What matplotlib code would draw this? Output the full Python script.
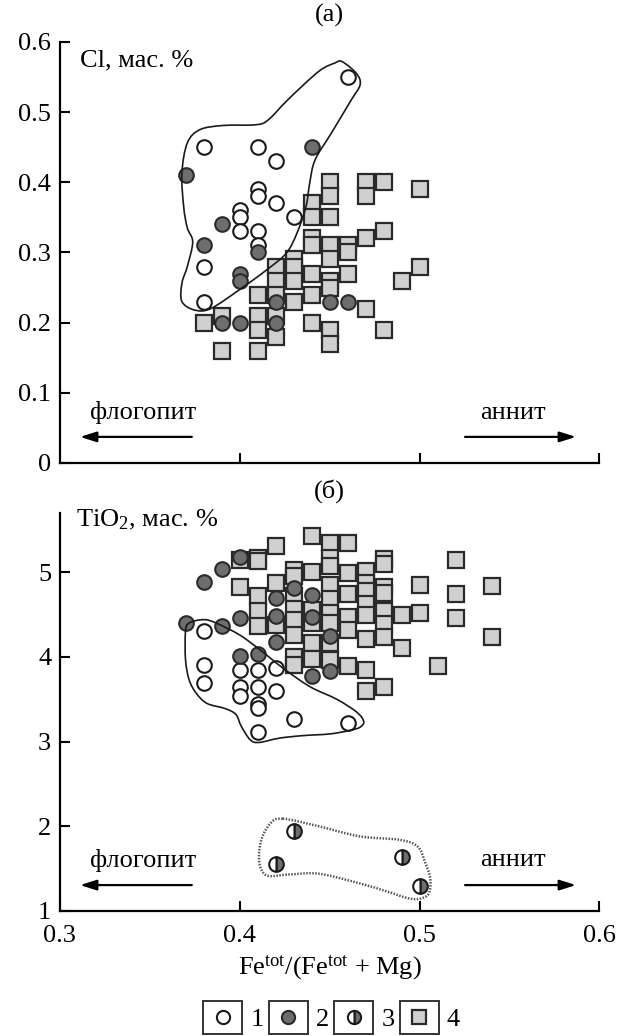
import matplotlib.pyplot as plt
import numpy as np
from matplotlib.path import Path
from matplotlib.patches import PathPatch, Rectangle
from matplotlib.lines import Line2D
from matplotlib.legend_handler import HandlerBase

plt.rcParams['font.family'] = ['Liberation Serif', 'DejaVu Serif']
plt.rcParams['mathtext.fontset'] = 'custom'
plt.rcParams['mathtext.rm'] = 'Liberation Serif'
plt.rcParams['mathtext.it'] = 'Liberation Serif:italic'

# ---- panel (а): Cl, wt. % ----
a_open_x = [0.46, 0.38, 0.41, 0.42, 0.41, 0.41, 0.42, 0.40, 0.40, 0.43, 0.40, 0.41, 0.41, 0.38, 0.38]
a_open_y = [0.55, 0.45, 0.45, 0.43, 0.39, 0.38, 0.37, 0.36, 0.35, 0.35, 0.33, 0.33, 0.31, 0.28, 0.23]
a_fill_x = [0.44, 0.37, 0.39, 0.38, 0.41, 0.40, 0.40, 0.42, 0.45, 0.46, 0.39, 0.40, 0.42]
a_fill_y = [0.45, 0.41, 0.34, 0.31, 0.30, 0.27, 0.26, 0.23, 0.23, 0.23, 0.20, 0.20, 0.20]
a_sq_x = [0.45, 0.47, 0.48, 0.50, 0.45, 0.47, 0.44, 0.44, 0.45, 0.48, 0.47, 0.44, 0.45,
          0.46, 0.44, 0.46, 0.45, 0.43, 0.42, 0.43, 0.50, 0.44, 0.46, 0.42, 0.43, 0.45,
          0.49, 0.45, 0.41, 0.42, 0.44, 0.43, 0.47, 0.38, 0.39, 0.41, 0.42, 0.44, 0.41,
          0.45, 0.48, 0.42, 0.45, 0.39, 0.41]
a_sq_y = [0.40, 0.40, 0.40, 0.39, 0.38, 0.38, 0.37, 0.35, 0.35, 0.33, 0.32, 0.32, 0.31,
          0.31, 0.31, 0.30, 0.29, 0.29, 0.28, 0.28, 0.28, 0.27, 0.27, 0.26, 0.26, 0.26,
          0.26, 0.25, 0.24, 0.24, 0.24, 0.23, 0.22, 0.20, 0.21, 0.21, 0.21, 0.20, 0.19,
          0.19, 0.19, 0.18, 0.17, 0.16, 0.16]
a_field_x = [0.457, 0.465, 0.467, 0.462, 0.451, 0.442, 0.439, 0.437, 0.432, 0.426, 0.415,
             0.400, 0.384, 0.375, 0.368, 0.368, 0.371, 0.374, 0.371, 0.369, 0.368, 0.371,
             0.378, 0.391, 0.409, 0.416, 0.427, 0.444, 0.453]
a_field_y = [0.572, 0.555, 0.539, 0.517, 0.470, 0.432, 0.399, 0.366, 0.328, 0.299, 0.275,
             0.247, 0.220, 0.218, 0.230, 0.256, 0.280, 0.315, 0.335, 0.365, 0.413, 0.456,
             0.475, 0.481, 0.482, 0.489, 0.518, 0.558, 0.570]

# ---- panel (б): TiO2, wt. % ----
b_open_x = [0.38, 0.38, 0.38, 0.40, 0.41, 0.42, 0.40, 0.40, 0.41, 0.42, 0.41, 0.41, 0.43, 0.46, 0.41]
b_open_y = [4.30, 3.90, 3.69, 3.84, 3.85, 3.87, 3.65, 3.54, 3.64, 3.60, 3.44, 3.40, 3.27, 3.22, 3.11]
b_fill_x = [0.40, 0.39, 0.38, 0.37, 0.39, 0.40, 0.42, 0.43, 0.44, 0.42, 0.44, 0.45, 0.42,
            0.40, 0.41, 0.44, 0.45]
b_fill_y = [5.18, 5.04, 4.89, 4.40, 4.37, 4.46, 4.70, 4.81, 4.73, 4.48, 4.47, 4.25, 4.18,
            4.01, 4.03, 3.77, 3.83]
b_half_x = [0.43, 0.42, 0.49, 0.50]
b_half_y = [1.95, 1.55, 1.64, 1.29]
b_sq_x = [0.44, 0.45, 0.46, 0.42, 0.40, 0.41, 0.41, 0.45, 0.48, 0.48, 0.52,
          0.43, 0.43, 0.44, 0.45, 0.46, 0.47,
          0.40, 0.42, 0.45, 0.47, 0.48, 0.50, 0.54, 0.52,
          0.41, 0.43, 0.45, 0.46, 0.47, 0.48, 0.47,
          0.41, 0.43, 0.44, 0.45, 0.46, 0.47, 0.48, 0.49, 0.50, 0.52,
          0.41, 0.42, 0.43, 0.44, 0.45, 0.46, 0.48,
          0.43, 0.44, 0.45, 0.47, 0.48, 0.54,
          0.49, 0.43, 0.44, 0.45, 0.43, 0.46, 0.47, 0.51,
          0.47, 0.48]
b_sq_y = [5.43, 5.35, 5.34, 5.31, 5.14, 5.17, 5.13, 5.17, 5.16, 5.10, 5.15,
          5.03, 4.95, 5.00, 5.07, 4.99, 5.02,
          4.83, 4.87, 4.85, 4.87, 4.83, 4.85, 4.84, 4.74,
          4.72, 4.72, 4.68, 4.74, 4.78, 4.75, 4.63,
          4.54, 4.56, 4.55, 4.52, 4.47, 4.50, 4.54, 4.49, 4.52, 4.46,
          4.37, 4.38, 4.44, 4.40, 4.40, 4.32, 4.39,
          4.26, 4.16, 4.16, 4.21, 4.23, 4.23,
          4.11, 4.00, 3.98, 3.96, 3.90, 3.89, 3.85, 3.89,
          3.60, 3.64]
b_field_x = [0.380, 0.387, 0.400, 0.411, 0.424, 0.439, 0.454, 0.465, 0.469, 0.467, 0.461,
             0.450, 0.435, 0.422, 0.411, 0.406, 0.401, 0.398, 0.392, 0.382, 0.376, 0.372,
             0.370, 0.370, 0.372]
b_field_y = [4.44, 4.40, 4.26, 4.09, 3.87, 3.65, 3.50, 3.35, 3.24, 3.17, 3.13,
             3.09, 3.07, 3.04, 2.99, 3.02, 3.18, 3.32, 3.39, 3.45, 3.57, 3.73,
             3.97, 4.30, 4.40]
b_dot_x = [0.424, 0.444, 0.467, 0.489, 0.499, 0.503, 0.506, 0.505, 0.499, 0.492, 0.482,
           0.466, 0.444, 0.427, 0.415, 0.411, 0.412, 0.417]
b_dot_y = [2.09, 2.00, 1.88, 1.84, 1.76, 1.58, 1.38, 1.20, 1.14, 1.16, 1.23,
           1.33, 1.44, 1.43, 1.42, 1.58, 1.83, 2.03]

OPEN = dict(marker='o', ms=10.5, mfc='white', mec='#1a1a1a', mew=1.5, ls='none')
FILLED = dict(marker='o', ms=10.5, mfc='#6e6e6e', mec='#2a2a2a', mew=1.5, ls='none')
HALF = dict(marker='o', ms=10.5, fillstyle='right', mfc='#6e6e6e',
            markerfacecoloralt='white', mec='#1a1a1a', mew=1.5, ls='none')
SQUARE = dict(marker='s', ms=11.3, mfc='#d0d0d0', mec='#2a2a2a', mew=1.6, ls='none')
FS = 19


def smooth_closed(xs, ys):
    # closed catmull-rom outline written as cubic bezier segments
    pts = np.column_stack([xs, ys])
    n = len(pts)
    verts = [pts[0]]
    codes = [Path.MOVETO]
    for i in range(n):
        p0, p1, p2, p3 = pts[i - 1], pts[i], pts[(i + 1) % n], pts[(i + 2) % n]
        verts += [p1 + (p2 - p0) / 6, p2 - (p3 - p1) / 6, p2]
        codes += [Path.CURVE4] * 3
    return Path(verts, codes)


def style_axes(ax):
    for s in ['top', 'right']:
        ax.spines[s].set_visible(False)
    for s in ['left', 'bottom']:
        ax.spines[s].set_linewidth(1.6)
    ax.tick_params(direction='in', length=7, width=1.5, labelsize=FS, pad=6)
    ax.set_xlim(0.3, 0.6)


def end_members(ax, ty, ay):
    ax.text(0.0565, ty, 'флогопит', transform=ax.transAxes, fontsize=FS, va='center')
    ax.text(0.7787, ty, 'аннит', transform=ax.transAxes, fontsize=FS, va='center')
    arr = dict(arrowstyle='-|>,head_length=0.7,head_width=0.22', lw=1.6, color='black',
               mutation_scale=14, shrinkA=0, shrinkB=0)
    ax.annotate('', xy=(0.038, ay), xytext=(0.245, ay), xycoords='axes fraction', arrowprops=arr)
    ax.annotate('', xy=(0.9565, ay), xytext=(0.751, ay), xycoords='axes fraction', arrowprops=arr)


class BoxedMarker(HandlerBase):
    def create_artists(self, legend, orig_handle, xdescent, ydescent, width, height, fontsize, trans):
        box = Rectangle((-xdescent, -ydescent), width, height, facecolor='white',
                        edgecolor='#333333', lw=1.4, transform=trans)
        m = Line2D([width / 2 - xdescent], [height / 2 - ydescent])
        m.update_from(orig_handle)
        m.set_transform(trans)
        return [box, m]


def main():
    fig = plt.figure(figsize=(6.29, 10.36), dpi=100)
    ax_a = fig.add_axes([0.0946, 0.5531, 0.8585, 0.4064])
    ax_b = fig.add_axes([0.0946, 0.1207, 0.8585, 0.3842])

    # (а)
    style_axes(ax_a)
    ax_a.set_ylim(0, 0.6)
    ax_a.set_xticks([0.4, 0.5, 0.6])
    ax_a.tick_params(labelbottom=False)
    ax_a.set_yticks([0, 0.1, 0.2, 0.3, 0.4, 0.5, 0.6])
    ax_a.set_yticklabels(['0', '0.1', '0.2', '0.3', '0.4', '0.5', '0.6'])
    ax_a.plot(a_sq_x, a_sq_y, zorder=3, **SQUARE)
    ax_a.plot(a_open_x, a_open_y, zorder=4, **OPEN)
    ax_a.plot(a_fill_x, a_fill_y, zorder=5, **FILLED)
    ax_a.add_patch(PathPatch(smooth_closed(a_field_x, a_field_y), fill=False,
                             ec='#1a1a1a', lw=1.2, zorder=6))
    ax_a.text(0.038, 0.957, 'Cl, мас. %', transform=ax_a.transAxes, fontsize=FS, va='center')
    end_members(ax_a, 0.119, 0.062)

    # (б)
    style_axes(ax_b)
    ax_b.set_ylim(1, 5.7)
    ax_b.set_xticks([0.3, 0.4, 0.5, 0.6])
    ax_b.set_xticklabels(['0.3', '0.4', '0.5', '0.6'])
    ax_b.tick_params(axis='x', pad=10)
    ax_b.set_yticks([1, 2, 3, 4, 5])
    ax_b.plot(b_sq_x, b_sq_y, zorder=3, **SQUARE)
    ax_b.plot(b_open_x, b_open_y, zorder=4, **OPEN)
    ax_b.plot(b_fill_x, b_fill_y, zorder=5, **FILLED)
    ax_b.plot(b_half_x, b_half_y, zorder=5, **HALF)
    ax_b.add_patch(PathPatch(smooth_closed(b_field_x, b_field_y), fill=False,
                             ec='#1a1a1a', lw=1.2, zorder=6))
    ax_b.add_patch(PathPatch(smooth_closed(b_dot_x, b_dot_y), fill=False,
                             ec='#555555', lw=1.8, ls=(0, (0.6, 0.6)), zorder=6))
    ax_b.text(0.031, 0.982, 'TiO$_2$, мас. %', transform=ax_b.transAxes, fontsize=FS, va='center')
    end_members(ax_b, 0.128, 0.065)

    fig.text(0.524, 1 - 15 / 1036, '(а)', ha='center', va='center', fontsize=FS)
    fig.text(0.524, 1 - 491 / 1036, '(б)', ha='center', va='center', fontsize=FS)
    fig.text(0.524, 1 - 968 / 1036, r'Fe$^{\mathrm{tot}}$/(Fe$^{\mathrm{tot}}$ + Mg)',
             ha='center', va='center', fontsize=FS)

    handles = [Line2D([], [], **dict(OPEN, ms=9.5)),
               Line2D([], [], **dict(FILLED, ms=9.5)),
               Line2D([], [], **dict(HALF, ms=9.5)),
               Line2D([], [], **dict(SQUARE, ms=10))]
    fig.legend(handles, ['1', '2', '3', '4'], loc='center', bbox_to_anchor=(0.527, 0.018),
               ncol=4, frameon=False, fontsize=FS, handlelength=1.48, handleheight=1.55,
               handletextpad=0.3, columnspacing=0.2, borderpad=0, borderaxespad=0,
               handler_map={Line2D: BoxedMarker()})

    fig.savefig('out.png', dpi=100)


if __name__ == '__main__':
    main()
